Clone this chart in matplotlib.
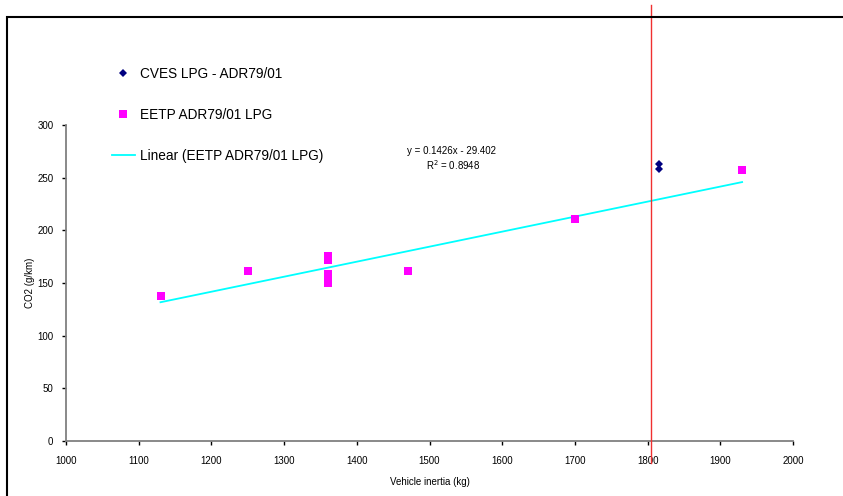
import matplotlib
matplotlib.use("Agg")
import matplotlib.pyplot as plt
from matplotlib.patches import Rectangle
from matplotlib.lines import Line2D

plt.rcParams["font.family"] = ["Liberation Sans", "DejaVu Sans"]

# CVES LPG - ADR79/01
CVES_X: list[float] = [1815, 1815]
CVES_Y: list[float] = [263, 258]

# EETP ADR79/01 LPG
EETP_X: list[float] = [1130, 1250, 1250, 1360, 1360, 1360, 1360, 1360, 1470, 1700, 1930]
EETP_Y: list[float] = [138, 161, 161, 176, 172, 159, 156, 150, 161, 211, 257]

# linear trendline, coefficients as printed on the chart
SLOPE: float = 0.1426
INTERCEPT: float = -29.402
R2: float = 0.8948
TREND_X: list[float] = [1130, 1930]

LIMIT_X: float = 1805

X_TICKS: list[int] = [1000, 1100, 1200, 1300, 1400, 1500, 1600, 1700, 1800, 1900, 2000]
Y_TICKS: list[int] = [0, 50, 100, 150, 200, 250, 300]


fig = plt.figure(figsize=(8.43, 4.96), dpi=100)
ax = fig.add_axes([66 / 843, 55 / 496, 727 / 843, 316 / 496])

# outer chart-area border (runs off the right and bottom of the picture)
fig.add_artist(Rectangle(
    (7 / 843, -0.2), 2.0, 1.2 - 16.5 / 496, transform=fig.transFigure,
    fill=False, edgecolor="black", linewidth=1.5, clip_on=False
))

trend_y = [SLOPE * x + INTERCEPT for x in TREND_X]
ax.plot(TREND_X, trend_y, color="#00FFFF", linewidth=1.3, zorder=2)

ax.plot(EETP_X, EETP_Y, linestyle="none", marker="s", markersize=5.8,
        color="#FF00FF", markeredgewidth=0, zorder=3)
ax.plot(CVES_X, CVES_Y, linestyle="none", marker="D", markersize=4.3,
        color="#000080", markeredgewidth=0, zorder=3)

ax.axvline(x=LIMIT_X, ymin=-22 / 316, ymax=436 / 316, color="#F03030",
           linewidth=1.0, clip_on=False, zorder=4)

ax.set_xlim(1000, 2000)
ax.set_ylim(0, 300)
ax.set_xticks(X_TICKS)
ax.set_yticks(Y_TICKS)
ax.tick_params(axis="both", direction="out", length=3, width=1,
               color="black", labelsize=7, pad=6)
ax.tick_params(axis="x", pad=8)

for side in ("top", "right"):
    ax.spines[side].set_visible(False)
for side in ("left", "bottom"):
    ax.spines[side].set_color("#808080")
    ax.spines[side].set_linewidth(1.3)

ax.set_xlabel("Vehicle inertia (kg)", fontsize=7, labelpad=8)
ax.set_ylabel("CO2 (g/km)", fontsize=7, labelpad=2)

ax.text(1530, 275, f"y = {SLOPE}x - {abs(INTERCEPT)}", fontsize=7,
        ha="center", va="center")
ax.text(1533, 262, f"R$^2$ = {R2}", fontsize=7, ha="center", va="center")

handles = [
    Line2D([], [], linestyle="none", marker="D", markersize=4.3,
           color="#000080", markeredgewidth=0),
    Line2D([], [], linestyle="none", marker="s", markersize=5.8,
           color="#FF00FF", markeredgewidth=0),
    Line2D([], [], color="#00FFFF", linewidth=1.3),
]
labels = ["CVES LPG - ADR79/01", "EETP ADR79/01 LPG", "Linear (EETP ADR79/01 LPG)"]
fig.legend(handles, labels, loc="upper left",
           bbox_to_anchor=(105 / 843, 1 - 60 / 496), frameon=False,
           fontsize=9.8, labelspacing=2.0, handlelength=1.7,
           handletextpad=0.4, borderpad=0)

fig.savefig("out.png", dpi=100)
